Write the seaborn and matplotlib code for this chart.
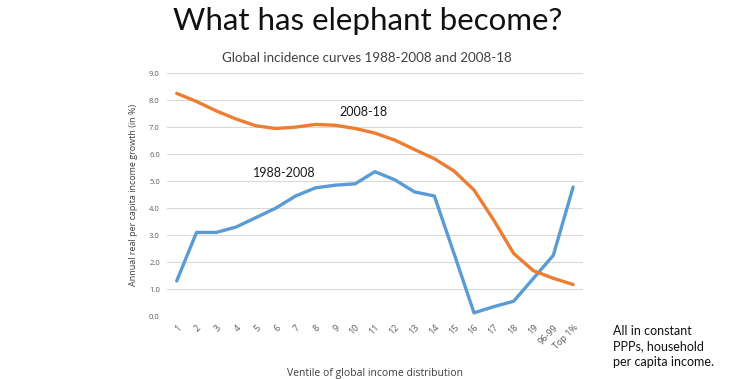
import matplotlib
matplotlib.use("Agg")
import matplotlib.pyplot as plt
import pandas as pd
import seaborn as sns
import numpy as np

# ventiles of the global income distribution
ventiles = [str(i) for i in range(1, 20)] + ["96-99", "Top 1%"]

# annual real per capita income growth (in %)
growth_1988_2008 = [1.3, 3.1, 3.1, 3.3, 3.65, 4.0, 4.45, 4.75, 4.85, 4.9, 5.35,
                    5.05, 4.6, 4.45, 2.3, 0.12, 0.35, 0.55, 1.4, 2.25, 4.78]
growth_2008_18 = [8.25, 7.95, 7.6, 7.3, 7.05, 6.95, 7.0, 7.1, 7.07, 6.95, 6.78,
                  6.52, 6.17, 5.83, 5.37, 4.67, 3.55, 2.32, 1.68, 1.4, 1.17]

df = pd.DataFrame({
    "pos": list(range(len(ventiles))) * 2,
    "growth": growth_1988_2008 + growth_2008_18,
    "period": ["1988-2008"] * len(ventiles) + ["2008-18"] * len(ventiles),
})

sns.set_style("white")
plt.rcParams['font.family'] = ['Lato', 'DejaVu Sans']

fig = plt.figure(figsize=(7.38, 3.79), dpi=100)
ax = fig.add_axes([0.226, 0.166, 0.564, 0.641])

sns.lineplot(data=df, x="pos", y="growth", hue="period",
             palette={"1988-2008": "#5B9BD5", "2008-18": "#ED7D31"},
             linewidth=2.4, legend=False, ax=ax)

ax.set_xlim(-0.5, len(ventiles) - 0.5)
ax.set_ylim(0, 9)
ax.set_yticks(np.arange(0, 9.5, 1))
ax.set_yticklabels([f"{v:.1f}" for v in np.arange(0, 9.5, 1)], fontsize=5.5,
                   color="#595959", family="Open Sans")
ax.set_xticks(range(len(ventiles)))
ax.set_xticklabels(ventiles, rotation=45, ha="right", rotation_mode="anchor",
                   fontsize=6.5, color="#595959", family="Open Sans")
ax.tick_params(axis="y", length=0, pad=5)
ax.tick_params(axis="x", length=0, pad=5)
ax.grid(axis="y", color="#d9d9d9", linewidth=0.8)
ax.set_axisbelow(True)
for s in ax.spines.values():
    s.set_visible(False)

ax.set_xlabel("Ventile of global income distribution", fontsize=7.5, color="#404040", labelpad=12,
              family="Open Sans")
ax.set_ylabel("Annual real per capita income growth (in %)", fontsize=6.5, color="#404040", labelpad=8,
              family="Open Sans")

ax.text(9.4, 7.55, "2008-18", fontsize=9, ha="center", va="center", color="#1a1a1a")
ax.text(5.45, 5.3, "1988-2008", fontsize=9, ha="center", va="center", color="#1a1a1a")

fig.text(0.498, 0.945, "What has elephant become?", fontsize=22.5, ha="center", va="center", color="#111111")
fig.text(0.497, 0.848, "Global incidence curves 1988-2008 and 2008-18", fontsize=9.6,
         ha="center", va="center", color="#404040")
fig.text(0.83, 0.087, "All in constant\nPPPs, household\nper capita income.", fontsize=9,
         ha="left", va="center", color="#111111", linespacing=1.35)

fig.savefig("out.png", dpi=100)
